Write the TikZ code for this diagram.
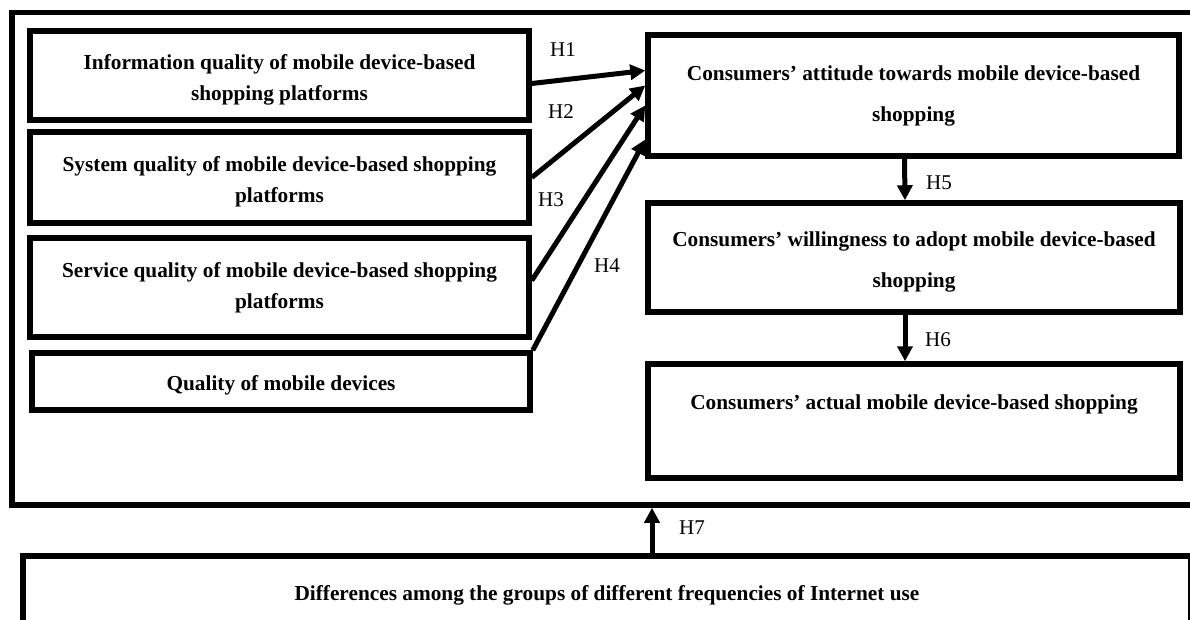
\documentclass[tikz,border=0pt]{standalone}
\usepackage{fontspec}
\setmainfont{Liberation Serif}
\usetikzlibrary{arrows.meta,calc}
\begin{document}
\begin{tikzpicture}[x=1pt,y=-1pt,
  box/.style={draw,line width=5.5pt,rectangle,inner sep=0pt,align=center,
    font=\bfseries\fontsize{21.3pt}{31pt}\selectfont},
  rbox/.style={box,font=\bfseries\fontsize{21.3pt}{41pt}\selectfont},
  txt/.style={align=center,inner sep=0pt,font=\bfseries\fontsize{21.3pt}{31pt}\selectfont},
  rtxt/.style={txt,font=\bfseries\fontsize{21.3pt}{41pt}\selectfont},
  hlab/.style={font=\fontsize{21pt}{25pt}\selectfont,inner sep=0pt},
  arr/.style={line width=5pt,-{Triangle[length=15pt,width=15pt]}}]
\clip (0,0) rectangle (1190,620);
\fill[white] (0,0) rectangle (1190,620);
% outer frame
\node[draw,line width=5.5pt,minimum width=1188pt,minimum height=492.5pt,inner sep=0pt] (frame) at (606,258.75) {};
% left boxes
\node[box,minimum width=499pt,minimum height=89pt] (b1) at (279.5,75.5) {};
\node[txt] (t1) at ([yshift=-4pt]b1.center) {Information quality of mobile device-based\\shopping platforms};
\node[box,minimum width=499pt,minimum height=91pt] (b2) at (279.5,177.5) {};
\node[txt] (t2) at ([yshift=-4pt]b2.center) {System quality of mobile device-based shopping\\platforms};
\node[box,minimum width=499pt,minimum height=99pt] (b3) at (279.5,287.5) {};
\node[txt] (t3) at (b3.center) {Service quality of mobile device-based shopping\\platforms};
\node[box,minimum width=498pt,minimum height=57pt] (b4) at (281,381.5) {};
\node[txt] (t4) at ([yshift=-4pt]b4.center) {Quality of mobile devices};
% right boxes
\node[rbox,minimum width=531pt,minimum height=121pt] (A) at (913.5,95.5) {};
\node[rtxt] (tA) at (A.center) {Consumers’ attitude towards mobile device-based\\shopping};
\node[rbox,minimum width=532pt,minimum height=109pt] (B) at (914,257.5) {};
\node[rtxt] (tB) at ([yshift=-4pt]B.center) {Consumers’ willingness to adopt mobile device-based\\shopping};
\node[rbox,minimum width=532pt,minimum height=114pt] (C) at (914,421) {};
\node[rtxt] (tC) at ([yshift=-2pt]C.center) {Consumers’ actual mobile device-based shopping\\\mbox{}};
% bottom box
\node[box,minimum width=1168pt,minimum height=78pt] (D) at (607,595) {};
\node[txt] (tD) at (D.center) {Differences among the groups of different frequencies of Internet use};
% arrows
\draw[arr] ([yshift=-8pt]b1.east) -- ([yshift=25pt]A.west);
\draw[arr] (b2.east) -- ([yshift=10pt]A.west);
\draw[arr] ([yshift=7pt]b3.east) -- ([yshift=-10pt]A.west);
\draw[arr] (b4.north east) -- ([yshift=-44pt]A.west);
\draw[arr] ([xshift=-9pt]A.south) -- ([xshift=-9pt]B.north);
\draw[arr] ([xshift=-9pt]B.south) -- ([xshift=-9pt]C.north);
\coordinate (h7) at (652,0);
\draw[arr] (D.north -| h7) -- (frame.south -| h7);
% labels
\node[hlab] (l1) at (563,50) {H1};
\node[hlab] (l2) at (561,112) {H2};
\node[hlab] (l3) at (551,200) {H3};
\node[hlab] (l4) at (607,266) {H4};
\node[hlab] (l5) at (939,183) {H5};
\node[hlab] (l6) at (938,340) {H6};
\node[hlab] (l7) at (692,528) {H7};
\end{tikzpicture}
\end{document}
